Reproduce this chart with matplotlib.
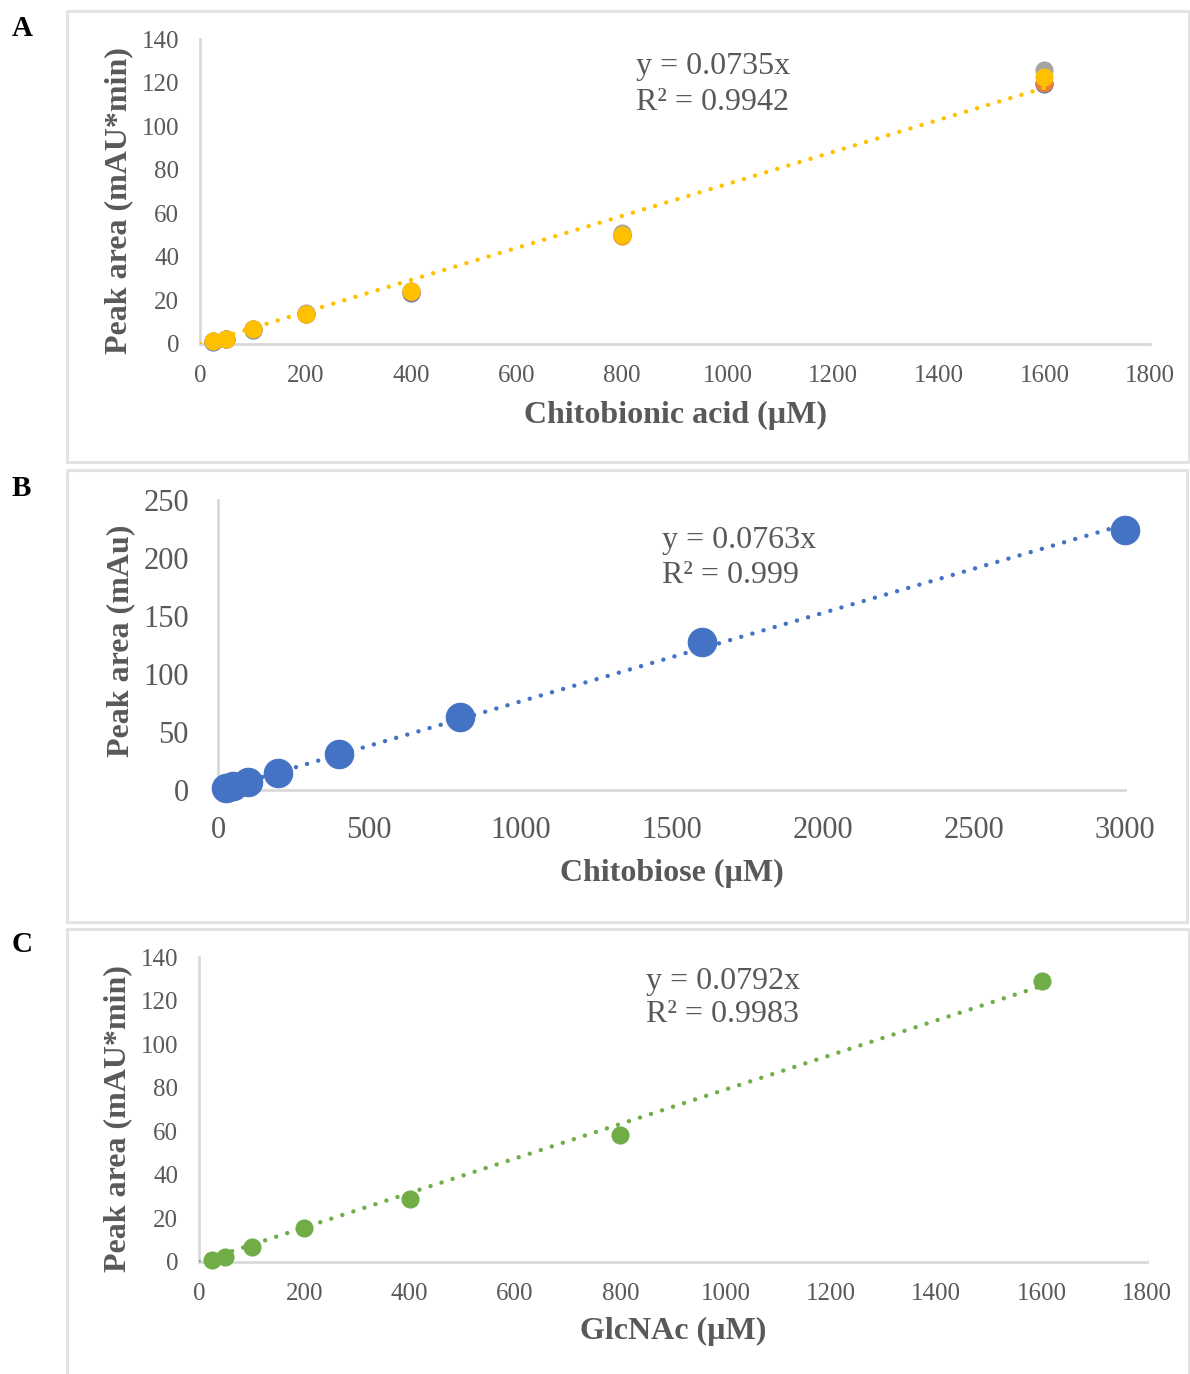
import matplotlib
matplotlib.use("Agg")
import matplotlib.pyplot as plt
from matplotlib.lines import Line2D
import numpy as np

plt.rcParams['font.family'] = ['Liberation Serif', 'DejaVu Serif']

# ---- Data ----
conc_a = [25, 50, 100, 200, 400, 800, 1600]
area_a_blue = [1.1, 2.4, 6.6, 13.8, 23.5, 50.0, 119.5]
area_a_orange = [1.2, 2.5, 6.8, 14.0, 24.0, 49.5, 120.0]
area_a_gray = [1.2, 2.5, 6.9, 14.2, 24.5, 51.0, 126.0]
area_a_yellow = [1.2, 2.5, 6.8, 14.0, 24.5, 50.2, 122.5]
slope_a = 0.0735
r2_a = "0.9942"

conc_b = [25, 50, 100, 200, 400, 800, 1600, 3000]
area_b = [1.5, 3.5, 7.0, 14.7, 31.0, 63.0, 127.6, 224.0]
slope_b = 0.0763
r2_b = "0.999"

conc_c = [25, 50, 100, 200, 400, 800, 1600]
area_c = [1.0, 2.3, 7.0, 15.6, 29.0, 58.3, 129.0]
slope_c = 0.0792
r2_c = "0.9983"

W, H = 1190, 1374
fig = plt.figure(figsize=(W / 100, H / 100), dpi=100)

GRAY_TXT = '#595959'
SPINE = '#D9D9D9'
BOX = '#E3E3E3'
DOT = (0, (0.01, 2.6))

def fx(px):
    return px / W

def fy(py):
    return 1 - py / H

# panel boxes
def box(x0, y0, x1, y1, open_bottom=False):
    lw = 2.2
    xs = [x0, x0, x1, x1]
    ys = [y1, y0, y0, y1]
    fig.add_artist(Line2D([fx(x) for x in xs], [fy(y) for y in ys], color=BOX, lw=lw))
    if not open_bottom:
        fig.add_artist(Line2D([fx(x0), fx(x1)], [fy(y1), fy(y1)], color=BOX, lw=lw))

box(67, 11, 1189, 462)
box(67, 470, 1187, 922)
box(67, 929, 1189, 1380, open_bottom=True)

def make_ax(l, r, b, t):
    ax = fig.add_axes([fx(l), fy(b), fx(r) - fx(l), fy(t) - fy(b)])
    for s in ['top', 'right']:
        ax.spines[s].set_visible(False)
    for s in ['left', 'bottom']:
        ax.spines[s].set_color(SPINE)
        ax.spines[s].set_linewidth(2)
    ax.tick_params(length=0, colors=GRAY_TXT)
    ax.patch.set_alpha(0)
    return ax

def trend(ax, xmax, slope, col):
    xs = np.array([0, xmax])
    ax.plot(xs, slope * xs, ls=DOT, color=col, lw=3.2, zorder=4,
            dash_capstyle='round', solid_capstyle='round')

# ---- Panel A ----
axA = make_ax(200, 1150, 344, 39)
axA.set_xlim(0, 1800)
axA.set_ylim(0, 140)
axA.set_xticks(np.arange(0, 1801, 200))
axA.set_yticks(np.arange(0, 141, 20))
axA.tick_params(axis='x', labelsize=18, pad=15)
axA.tick_params(axis='y', labelsize=18, pad=15)
for vals, col in [(area_a_blue, '#4472C4'), (area_a_orange, '#ED7D31'),
                  (area_a_gray, '#A5A5A5'), (area_a_yellow, '#FFC000')]:
    axA.scatter(conc_a, vals, s=150, color=col, edgecolor=col, linewidth=0.8, zorder=3, clip_on=False)
trend(axA, 1600, slope_a, '#FFC000')
axA.set_xlabel('Chitobionic acid (µM)', fontsize=23, fontweight='bold', color=GRAY_TXT, labelpad=10)
axA.set_ylabel('Peak area (mAU*min)', fontsize=23, fontweight='bold', color=GRAY_TXT, labelpad=6, y=0.47)
axA.text(826, 134, f'y = {slope_a}x\nR² = {r2_a}', fontsize=23, color=GRAY_TXT,
         ha='left', va='top', linespacing=1.3)

# ---- Panel B ----
axB = make_ax(218, 1125, 790, 500)
axB.set_xlim(0, 3000)
axB.set_ylim(0, 250)
axB.set_xticks(np.arange(0, 3001, 500))
axB.set_yticks(np.arange(0, 251, 50))
axB.tick_params(axis='x', labelsize=22, pad=19)
axB.tick_params(axis='y', labelsize=22, pad=21)
axB.scatter(conc_b, area_b, s=420, color='#4472C4', edgecolor='#4472C4', linewidth=0.8, zorder=3, clip_on=False)
trend(axB, 3000, slope_b, '#4472C4')
axB.set_xlabel('Chitobiose (µM)', fontsize=23, fontweight='bold', color=GRAY_TXT, labelpad=10)
axB.set_ylabel('Peak area (mAu)', fontsize=23, fontweight='bold', color=GRAY_TXT, labelpad=6, y=0.515)
axB.text(1470, 228, f'y = {slope_b}x\nR² = {r2_b}', fontsize=23, color=GRAY_TXT,
         ha='left', va='top', linespacing=1.3)

# ---- Panel C ----
axC = make_ax(199, 1147, 1262, 957)
axC.set_xlim(0, 1800)
axC.set_ylim(0, 140)
axC.set_xticks(np.arange(0, 1801, 200))
axC.set_yticks(np.arange(0, 141, 20))
axC.tick_params(axis='x', labelsize=18, pad=15)
axC.tick_params(axis='y', labelsize=18, pad=15)
axC.scatter(conc_c, area_c, s=150, color='#70AD47', edgecolor='#70AD47', linewidth=0.8, zorder=3, clip_on=False)
trend(axC, 1600, slope_c, '#70AD47')
axC.set_xlabel('GlcNAc (µM)', fontsize=23, fontweight='bold', color=GRAY_TXT, labelpad=9)
axC.set_ylabel('Peak area (mAU*min)', fontsize=23, fontweight='bold', color=GRAY_TXT, labelpad=6, y=0.47)
axC.text(848, 135.5, f'y = {slope_c}x\nR² = {r2_c}', fontsize=23, color=GRAY_TXT,
         ha='left', va='top', linespacing=1.2)

# panel letters
fig.text(fx(12), fy(28), 'A', fontsize=21, fontweight='bold', ha='left', va='center')
fig.text(fx(12), fy(488), 'B', fontsize=21, fontweight='bold', ha='left', va='center')
fig.text(fx(12), fy(945), 'C', fontsize=21, fontweight='bold', ha='left', va='center')

fig.savefig('out.png', dpi=100)
